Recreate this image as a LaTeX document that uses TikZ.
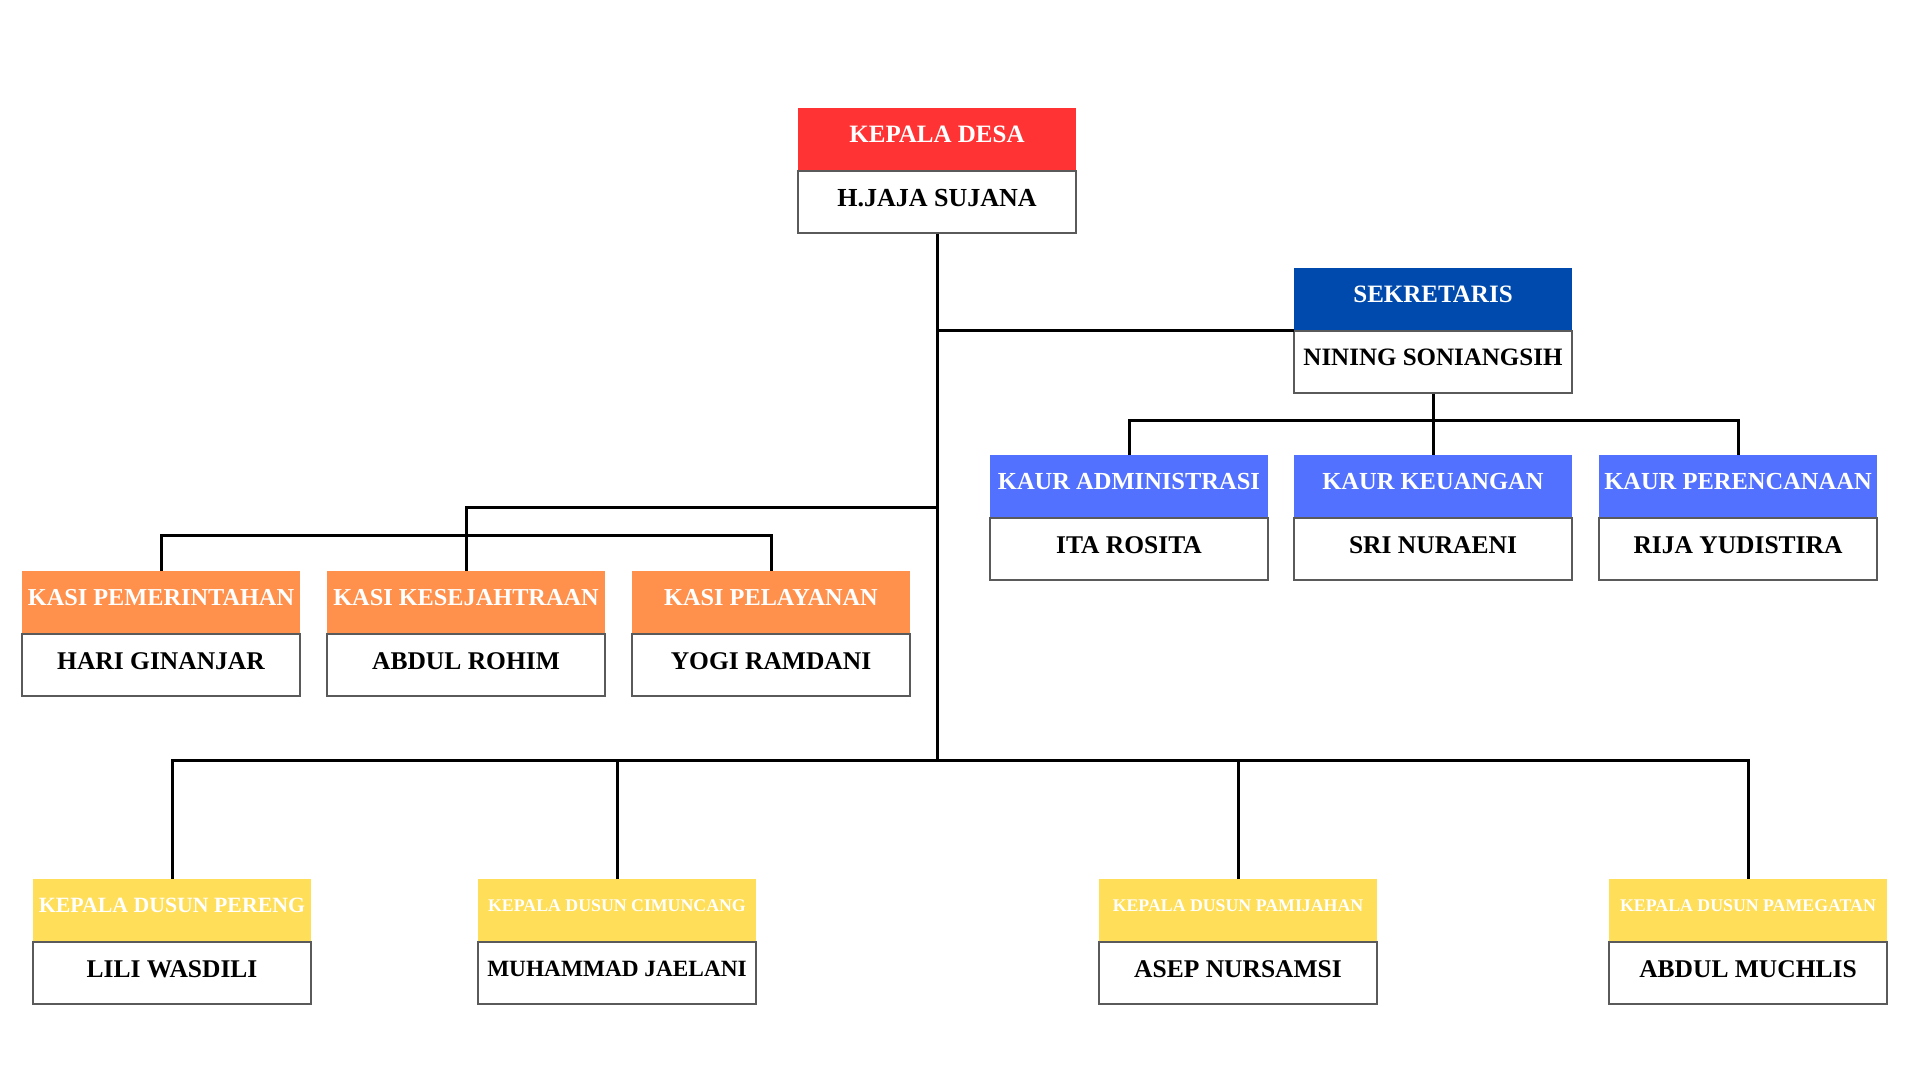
\documentclass[tikz,border=0pt]{standalone}
\usepackage{fontspec}
\setmainfont{Liberation Serif}
\definecolor{cred}{HTML}{FF3333}
\definecolor{cdblue}{HTML}{004AAD}
\definecolor{clblue}{HTML}{5271FF}
\definecolor{corange}{HTML}{FF914D}
\definecolor{cyellow}{HTML}{FFDE59}
\definecolor{cborder}{HTML}{5A5A5A}
\tikzset{
  hdr/.style={rectangle, minimum width=278pt, minimum height=62pt, inner sep=0pt, text depth=9pt, text=white, anchor=north},
  nm/.style={rectangle, draw=cborder, line width=1.3pt, fill=white, minimum width=278pt, minimum height=62pt, inner sep=0pt, text depth=9pt, text=black, anchor=north},
  link/.style={line width=3pt, black}
}
\newcommand\orgunit[7]{%
  \node[hdr, fill=#3, font=\bfseries\fontsize{#4}{#4}\selectfont] (#1-h) at #2 {#5};
  \node[nm, font=\bfseries\fontsize{#6}{#6}\selectfont] (#1-n) at (#1-h.south) {#7};
}
\begin{document}
\begin{tikzpicture}[x=1pt,y=-1pt]
\useasboundingbox[fill=white] (0,0) rectangle (1920,1080);
\coordinate (kasiJ) at (937,507);
\coordinate (kasiB) at (466,535);
\coordinate (kaurB) at (1433,420);
\coordinate (dusB) at (937,760);
% boxes
\orgunit{kd}{(937,108)}{cred}{25}{KEPALA DESA}{26}{H.JAJA SUJANA}
\orgunit{sek}{(1433,268)}{cdblue}{25}{SEKRETARIS}{25}{NINING SONIANGSIH}
\orgunit{ka1}{(1129,455)}{clblue}{24.5}{KAUR ADMINISTRASI}{25.5}{ITA ROSITA}
\orgunit{ka2}{(1433,455)}{clblue}{24.5}{KAUR KEUANGAN}{25.5}{SRI NURAENI}
\orgunit{ka3}{(1738,455)}{clblue}{24.5}{KAUR PERENCANAAN}{25.5}{RIJA YUDISTIRA}
\orgunit{ks1}{(161,571)}{corange}{24.3}{KASI PEMERINTAHAN}{25.5}{HARI GINANJAR}
\orgunit{ks2}{(466,571)}{corange}{24.3}{KASI KESEJAHTRAAN}{25.5}{ABDUL ROHIM}
\orgunit{ks3}{(771,571)}{corange}{24.3}{KASI PELAYANAN}{25.5}{YOGI RAMDANI}
\orgunit{d1}{(172,879)}{cyellow}{21.8}{KEPALA DUSUN PERENG}{25.5}{LILI WASDILI}
\orgunit{d2}{(617,879)}{cyellow}{17.8}{KEPALA DUSUN CIMUNCANG}{23.3}{MUHAMMAD JAELANI}
\orgunit{d3}{(1238,879)}{cyellow}{17.8}{KEPALA DUSUN PAMIJAHAN}{25.5}{ASEP NURSAMSI}
\orgunit{d4}{(1748,879)}{cyellow}{17.8}{KEPALA DUSUN PAMEGATAN}{25.5}{ABDUL MUCHLIS}
% trunk
\draw[link] (kd-n.south) -- (dusB);
% sekretaris
\draw[link] (sek-h.south west) -- (sek-h.south west -| kd-n.south);
\draw[link] (sek-n.south) -- (kaurB);
\draw[link] (ka1-h.north) |- (kaurB) -| (ka3-h.north);
\draw[link] (kaurB) -- (ka2-h.north);
% kasi
\draw[link] (kasiJ) -| (ks2-h.north);
\draw[link] (ks1-h.north) |- (kasiB) -| (ks3-h.north);
% dusun
\draw[link] (d1-h.north) |- (dusB) -| (d4-h.north);
\draw[link] (d2-h.north) -- (d2-h.north |- dusB);
\draw[link] (d3-h.north) -- (d3-h.north |- dusB);
\end{tikzpicture}
\end{document}
